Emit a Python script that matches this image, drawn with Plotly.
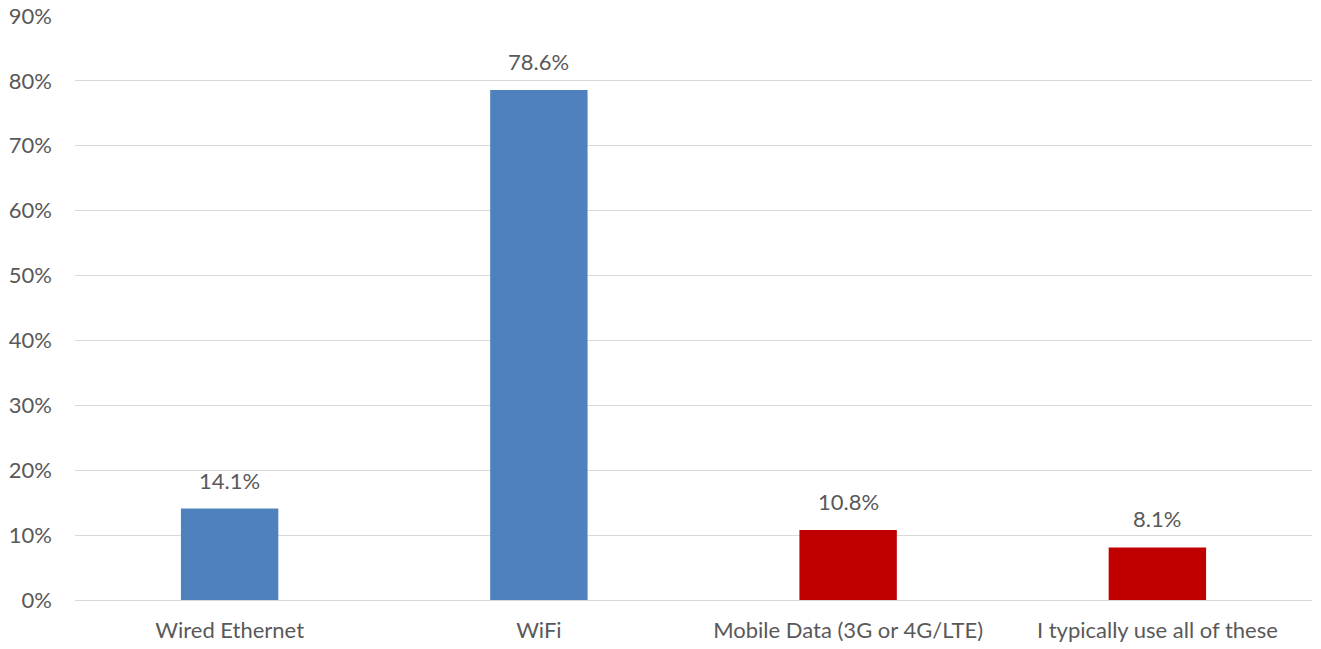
import plotly.graph_objects as go

categories = ["Wired Ethernet", "WiFi", "Mobile Data (3G or 4G/LTE)", "I typically use all of these"]
shares = [14.1, 78.6, 10.8, 8.1]
bar_colors = ["#4F81BD", "#4F81BD", "#C00000", "#C00000"]
y_ticks = [0, 10, 20, 30, 40, 50, 60, 70, 80, 90]
y_tick_labels = [f"{v}%" for v in y_ticks]

FONT = "Lato, Calibri, Carlito, sans-serif"
TEXT_COLOR = "#595959"
FONT_SIZE = 22

fig = go.Figure(
    go.Bar(
        x=categories,
        y=shares,
        marker=dict(color=bar_colors, line=dict(width=0)),
        hoverinfo="skip",
    )
)

for cat, val in zip(categories, shares):
    fig.add_annotation(
        x=cat, y=val, text=f"{val:.1f}%", showarrow=False,
        yanchor="bottom", yshift=13,
        font=dict(family=FONT, size=FONT_SIZE, color=TEXT_COLOR),
    )

fig.update_layout(
    width=1321, height=649,
    margin=dict(l=75, r=9, t=16, b=49),
    paper_bgcolor="white", plot_bgcolor="white",
    bargap=0.685,
    showlegend=False,
    font=dict(family=FONT, size=FONT_SIZE, color=TEXT_COLOR),
)
fig.update_xaxes(
    automargin=False,
    showgrid=False, showline=True, linecolor="#D9D9D9", linewidth=1,
    ticks="", ticklabelstandoff=11,
    tickfont=dict(family=FONT, size=FONT_SIZE, color=TEXT_COLOR),
)
fig.update_yaxes(
    automargin=False,
    range=[0, 90], tickvals=y_ticks, ticktext=y_tick_labels,
    showgrid=True, gridcolor="#D9D9D9", gridwidth=1,
    zeroline=False, showline=False, ticks="",
    ticklabelstandoff=22,
    tickfont=dict(family=FONT, size=FONT_SIZE, color=TEXT_COLOR),
)

fig.write_html("out.html")
